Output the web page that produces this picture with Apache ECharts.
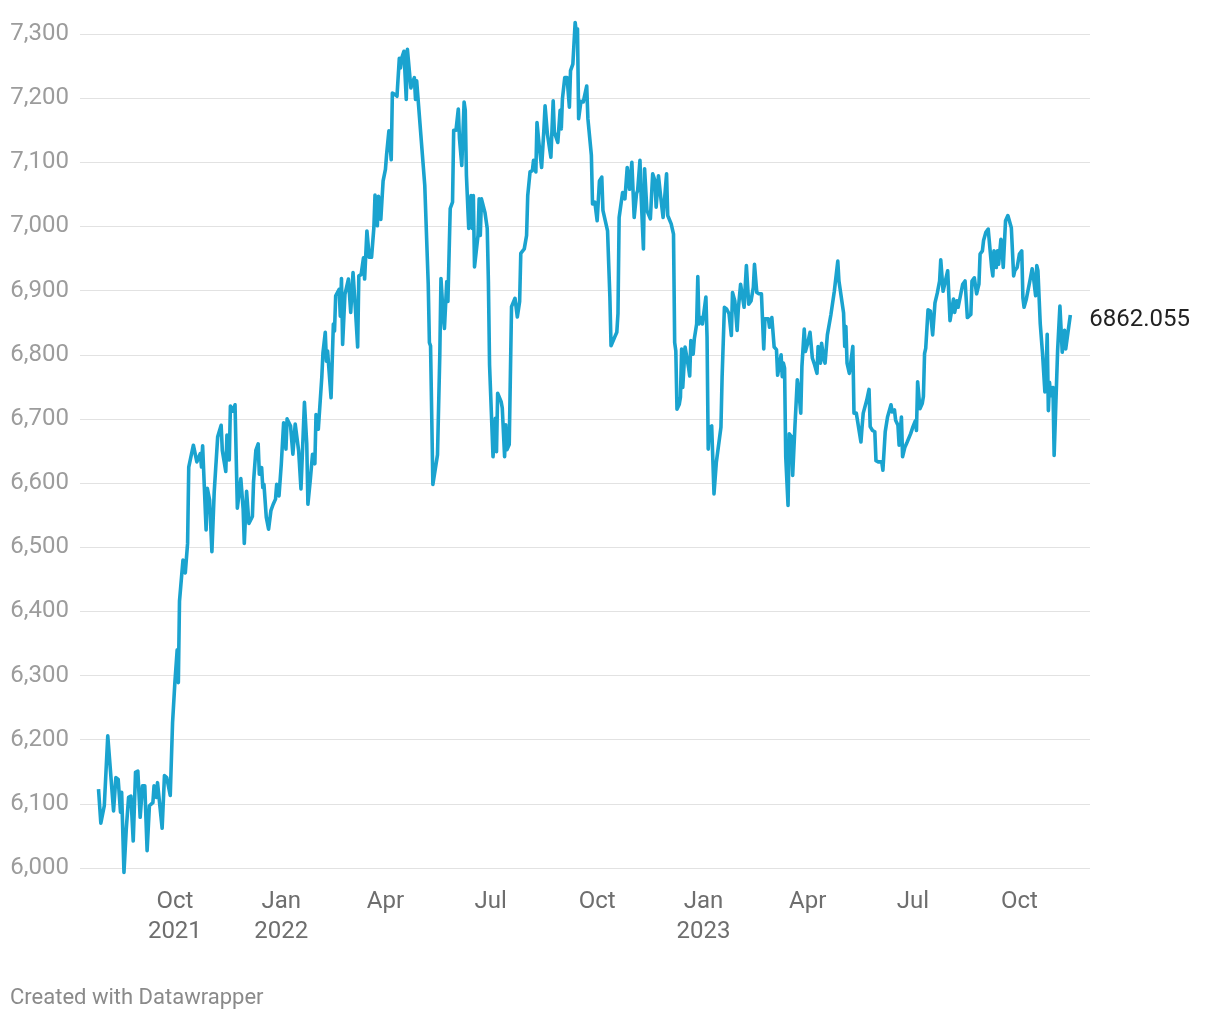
<!DOCTYPE html>
<html>
<head>
<meta charset="utf-8">
<script src="https://cdn.jsdelivr.net/npm/echarts@6/dist/echarts.min.js"></script>
<style>
html,body{margin:0;padding:0;background:#fff;}
#chart{width:1220px;height:1020px;}
</style>
</head>
<body>
<div id="chart"></div>
<script>
// ---- data ----
const dates = [
'2021-07-27','2021-07-29','2021-08-01','2021-08-04','2021-08-05','2021-08-09','2021-08-11','2021-08-13','2021-08-15','2021-08-16',
'2021-08-18','2021-08-20','2021-08-22','2021-08-24','2021-08-26','2021-08-28','2021-08-30','2021-09-01','2021-09-03','2021-09-05',
'2021-09-07','2021-09-09','2021-09-12','2021-09-13','2021-09-15','2021-09-16','2021-09-20','2021-09-22','2021-09-24','2021-09-27',
'2021-09-29','2021-10-01','2021-10-03','2021-10-04','2021-10-05','2021-10-06','2021-10-08','2021-10-10','2021-10-12','2021-10-13',
'2021-10-17','2021-10-20','2021-10-23','2021-10-24','2021-10-25','2021-10-28','2021-10-29','2021-10-31','2021-11-02','2021-11-04',
'2021-11-05','2021-11-07','2021-11-10','2021-11-11','2021-11-14','2021-11-15','2021-11-17','2021-11-18','2021-11-20','2021-11-22',
'2021-11-24','2021-11-27','2021-11-29','2021-11-30','2021-12-02','2021-12-04','2021-12-07','2021-12-08','2021-12-10','2021-12-12',
'2021-12-13','2021-12-15','2021-12-16','2021-12-17','2021-12-19','2021-12-21','2021-12-23','2021-12-25','2021-12-27','2021-12-28',
'2021-12-30','2022-01-01','2022-01-03','2022-01-05','2022-01-06','2022-01-09','2022-01-11','2022-01-13','2022-01-16','2022-01-18',
'2022-01-21','2022-01-23','2022-01-24','2022-01-26','2022-01-28','2022-01-30','2022-01-31','2022-02-02','2022-02-05','2022-02-06',
'2022-02-08','2022-02-09','2022-02-10','2022-02-13','2022-02-15','2022-02-16','2022-02-17','2022-02-20','2022-02-21','2022-02-22',
'2022-02-23','2022-02-25','2022-02-28','2022-03-02','2022-03-04','2022-03-06','2022-03-08','2022-03-09','2022-03-11','2022-03-13',
'2022-03-14','2022-03-16','2022-03-18','2022-03-20','2022-03-22','2022-03-23','2022-03-25','2022-03-26','2022-03-28','2022-03-30',
'2022-04-01','2022-04-02','2022-04-04','2022-04-06','2022-04-07','2022-04-09','2022-04-11','2022-04-13','2022-04-14','2022-04-15',
'2022-04-17','2022-04-19','2022-04-20','2022-04-21','2022-04-23','2022-04-24','2022-04-26','2022-04-27','2022-04-28','2022-05-05',
'2022-05-08','2022-05-09','2022-05-10','2022-05-12','2022-05-13','2022-05-16','2022-05-18','2022-05-19','2022-05-21','2022-05-22',
'2022-05-24','2022-05-25','2022-05-27','2022-05-29','2022-05-30','2022-06-01','2022-06-03','2022-06-04','2022-06-06','2022-06-08',
'2022-06-09','2022-06-10','2022-06-12','2022-06-14','2022-06-15','2022-06-16','2022-06-17','2022-06-20','2022-06-21','2022-06-22',
'2022-06-23','2022-06-26','2022-06-28','2022-06-29','2022-06-30','2022-07-03','2022-07-05','2022-07-06','2022-07-07','2022-07-10',
'2022-07-11','2022-07-13','2022-07-14','2022-07-15','2022-07-17','2022-07-19','2022-07-20','2022-07-22','2022-07-24','2022-07-26',
'2022-07-27','2022-07-30','2022-08-01','2022-08-02','2022-08-04','2022-08-06','2022-08-07','2022-08-09','2022-08-10','2022-08-12',
'2022-08-14','2022-08-16','2022-08-17','2022-08-19','2022-08-22','2022-08-24','2022-08-25','2022-08-28','2022-08-30','2022-08-31',
'2022-09-01','2022-09-03','2022-09-05','2022-09-07','2022-09-08','2022-09-10','2022-09-12','2022-09-13','2022-09-14','2022-09-15',
'2022-09-17','2022-09-19','2022-09-22','2022-09-23','2022-09-26','2022-09-27','2022-09-29','2022-10-01','2022-10-03','2022-10-05',
'2022-10-06','2022-10-10','2022-10-11','2022-10-12','2022-10-13','2022-10-16','2022-10-18','2022-10-19','2022-10-20','2022-10-22',
'2022-10-23','2022-10-25','2022-10-27','2022-10-29','2022-10-31','2022-11-02','2022-11-04','2022-11-05','2022-11-07','2022-11-08',
'2022-11-10','2022-11-11','2022-11-13','2022-11-14','2022-11-16','2022-11-18','2022-11-20','2022-11-21','2022-11-23','2022-11-25',
'2022-11-27','2022-11-28','2022-11-30','2022-12-01','2022-12-04','2022-12-06','2022-12-07','2022-12-08','2022-12-09','2022-12-11',
'2022-12-12','2022-12-13','2022-12-14','2022-12-16','2022-12-17','2022-12-19','2022-12-20','2022-12-21','2022-12-23','2022-12-24',
'2022-12-26','2022-12-27','2022-12-28','2022-12-30','2022-12-31','2023-01-03','2023-01-04','2023-01-05','2023-01-06','2023-01-08',
'2023-01-10','2023-01-12','2023-01-16','2023-01-17','2023-01-18','2023-01-19','2023-01-21','2023-01-23','2023-01-25','2023-01-26',
'2023-01-28','2023-01-30','2023-01-31','2023-02-02','2023-02-03','2023-02-05','2023-02-07','2023-02-08','2023-02-09','2023-02-11',
'2023-02-13','2023-02-14','2023-02-16','2023-02-18','2023-02-20','2023-02-22','2023-02-23','2023-02-26','2023-02-27','2023-03-01',
'2023-03-03','2023-03-05','2023-03-06','2023-03-09','2023-03-10','2023-03-11','2023-03-12','2023-03-13','2023-03-15','2023-03-16',
'2023-03-18','2023-03-19','2023-03-21','2023-03-23','2023-03-24','2023-03-26','2023-03-27','2023-03-29','2023-03-30','2023-04-01',
'2023-04-03','2023-04-05','2023-04-07','2023-04-09','2023-04-10','2023-04-12','2023-04-13','2023-04-15','2023-04-16','2023-04-18',
'2023-04-21','2023-04-24','2023-04-27','2023-04-28','2023-05-02','2023-05-03','2023-05-04','2023-05-05','2023-05-07','2023-05-08',
'2023-05-10','2023-05-11','2023-05-13','2023-05-14','2023-05-17','2023-05-18','2023-05-19','2023-05-22','2023-05-24','2023-05-25',
'2023-05-27','2023-05-29','2023-05-30','2023-06-01','2023-06-04','2023-06-05','2023-06-06','2023-06-07','2023-06-09','2023-06-12',
'2023-06-13','2023-06-15','2023-06-16','2023-06-18','2023-06-19','2023-06-21','2023-06-22','2023-06-24','2023-06-26','2023-06-29',
'2023-07-01','2023-07-03','2023-07-04','2023-07-05','2023-07-07','2023-07-09','2023-07-10','2023-07-11','2023-07-12','2023-07-14',
'2023-07-16','2023-07-18','2023-07-20','2023-07-22','2023-07-24','2023-07-25','2023-07-27','2023-07-29','2023-07-31','2023-08-02',
'2023-08-03','2023-08-05','2023-08-06','2023-08-08','2023-08-09','2023-08-11','2023-08-13','2023-08-15','2023-08-17','2023-08-20',
'2023-08-21','2023-08-23','2023-08-25','2023-08-27','2023-08-28','2023-08-30','2023-08-31','2023-09-02','2023-09-04','2023-09-05',
'2023-09-07','2023-09-08','2023-09-09','2023-09-11','2023-09-12','2023-09-13','2023-09-15','2023-09-16','2023-09-17','2023-09-19',
'2023-09-21','2023-09-22','2023-09-24','2023-09-26','2023-09-27','2023-09-29','2023-10-01','2023-10-03','2023-10-04','2023-10-05',
'2023-10-07','2023-10-08','2023-10-10','2023-10-12','2023-10-13','2023-10-15','2023-10-16','2023-10-17','2023-10-19','2023-10-20',
'2023-10-21','2023-10-23','2023-10-24','2023-10-25','2023-10-26','2023-10-27','2023-10-28','2023-10-30','2023-10-31','2023-11-03',
'2023-11-05','2023-11-07','2023-11-09','2023-11-10','2023-11-14'
];
const values = [
6123,6070,6097,6206,6203,6089,6141,6138,6087,6118,
5993,6061,6110,6112,6042,6149,6151,6079,6128,6128,
6027,6097,6102,6128,6110,6133,6062,6144,6141,6113,
6226,6289,6340,6289,6416,6418,6480,6460,6506,6625,
6659,6633,6646,6625,6658,6527,6592,6574,6493,6586,
6589,6672,6690,6651,6618,6675,6636,6720,6712,6722,
6561,6607,6560,6506,6587,6537,6548,6602,6651,6661,
6614,6624,6593,6598,6547,6528,6557,6567,6575,6598,
6580,6630,6694,6653,6700,6689,6645,6692,6650,6591,
6726,6661,6567,6604,6645,6630,6707,6684,6765,6803,
6835,6790,6806,6733,6848,6837,6892,6902,6860,6919,
6816,6894,6918,6866,6928,6873,6812,6923,6925,6951,
6918,6993,6952,6952,6998,7049,7001,7047,7011,7071,
7089,7112,7149,7104,7208,7206,7203,7262,7247,7262,
7273,7198,7276,7273,7216,7222,7232,7198,7227,7064,
6910,6819,6814,6598,6597,6644,6800,6919,6859,6841,
6914,6883,7028,7038,7150,7150,7183,7137,7095,7194,
7181,7080,6997,7048,6997,7048,6937,6986,7043,6986,
7043,7022,6997,6914,6784,6641,6701,6649,6740,6727,
6717,6641,6691,6652,6660,6875,6872,6888,6859,6883,
6958,6965,6986,7048,7085,7087,7103,7085,7162,7124,
7092,7152,7188,7144,7108,7196,7147,7131,7181,7152,
7199,7232,7232,7186,7243,7253,7318,7302,7308,7168,
7195,7194,7219,7168,7111,7035,7038,7009,7071,7077,
7025,6993,6941,6890,6814,6827,6835,6864,7014,7040,
7053,7043,7092,7058,7100,7014,7051,7056,7103,7048,
6965,7090,7025,7022,7012,7082,7071,7030,7079,7045,
7014,7012,7082,7017,7004,6988,6819,6806,6715,6723,
6734,6809,6749,6812,6809,6780,6767,6822,6801,6825,
6848,6922,6848,6858,6848,6890,6827,6653,6687,6689,
6583,6632,6687,6765,6765,6874,6871,6864,6830,6897,
6884,6838,6871,6910,6908,6874,6939,6939,6879,6884,
6905,6941,6897,6895,6895,6809,6856,6856,6843,6858,
6812,6808,6768,6800,6766,6787,6779,6641,6565,6677,
6672,6612,6690,6761,6750,6709,6782,6840,6805,6818,
6835,6795,6784,6771,6813,6787,6818,6792,6787,6831,
6862,6899,6946,6915,6865,6813,6844,6787,6771,6771,
6813,6709,6709,6711,6664,6688,6709,6729,6746,6688,
6682,6680,6635,6633,6633,6620,6620,6680,6703,6722,
6711,6714,6698,6690,6659,6703,6641,6656,6664,6677,
6688,6697,6682,6758,6716,6724,6735,6802,6810,6870,
6868,6831,6881,6896,6915,6948,6899,6915,6931,6853,
6850,6887,6866,6884,6874,6892,6910,6915,6858,6863,
6915,6920,6895,6910,6957,6962,6978,6991,6996,6996,
6936,6923,6962,6936,6962,6941,6980,6967,6936,7009,
7017,7011,6998,6923,6931,6936,6957,6962,6889,6874,
6887,6889,6915,6934,6923,6892,6939,6931,6848,6845,
6801,6742,6770,6832,6713,6757,6736,6749,6643,6806,
6876,6804,6838,6809,6862.055
];
const tickDates = ['2021-10-01','2022-01-01','2022-04-01','2022-07-01','2022-10-01','2023-01-01','2023-04-01','2023-07-01','2023-10-01'];
const tickLabels = ['Oct\n2021','Jan\n2022','Apr','Jul','Oct','Jan\n2023','Apr','Jul','Oct'];
const yMin = 6000, yMax = 7300, yStep = 100;
const xMin = '2021-07-11', xMax = '2023-12-01';

// ---- chart ----
function toTime(s){ const p = s.split('-').map(Number); return Date.UTC(p[0], p[1]-1, p[2]); }
const tickTimes = tickDates.map(toTime);
const seriesData = dates.map((d, i) => [toTime(d), values[i]]);

const chart = echarts.init(document.getElementById('chart'), null, {renderer: 'canvas'});
chart.setOption({
  animation: false,
  backgroundColor: '#ffffff',
  textStyle: {fontFamily: 'Roboto'},
  grid: {left: 80, right: 130, top: 34, bottom: 152, containLabel: false},
  title: {
    text: 'Created with Datawrapper',
    left: 10, top: 987, padding: 0,
    textStyle: {fontFamily: 'Roboto', fontSize: 22, fontWeight: 'normal', color: '#8a8a8a'}
  },
  xAxis: {
    type: 'value',
    min: toTime(xMin),
    max: toTime(xMax),
    axisLine: {show: false},
    axisTick: {show: false},
    splitLine: {show: false},
    axisLabel: {
      customValues: tickTimes,
      color: '#6e6e6e',
      fontSize: 24,
      fontFamily: 'Roboto',
      lineHeight: 30,
      margin: 19,
      formatter: function (v) {
        let best = 0, bd = Infinity;
        tickTimes.forEach((t, i) => { const d = Math.abs(t - v); if (d < bd) { bd = d; best = i; } });
        return tickLabels[best];
      }
    }
  },
  yAxis: {
    type: 'value',
    min: yMin, max: yMax, interval: yStep,
    axisLine: {show: false},
    axisTick: {show: false},
    splitLine: {lineStyle: {color: '#e2e2e2', width: 1.2}},
    axisLabel: {
      color: '#9c9c9c',
      fontSize: 24,
      fontFamily: 'Roboto',
      margin: 11,
      padding: [3, 0, 0, 0],
      formatter: v => v.toLocaleString('en-US')
    }
  },
  series: [{
    type: 'line',
    data: seriesData,
    showSymbol: false,
    symbol: 'none',
    clip: false,
    lineStyle: {color: '#1aa3cf', width: 3.6, join: 'round'},
    itemStyle: {color: '#1aa3cf'},
    endLabel: {
      show: true,
      distance: 19,
      offset: [0, 5],
      color: '#222222',
      fontSize: 24,
      fontFamily: 'Roboto',
      formatter: p => String(p.value[1])
    }
  }]
});
</script>
</body>
</html>
